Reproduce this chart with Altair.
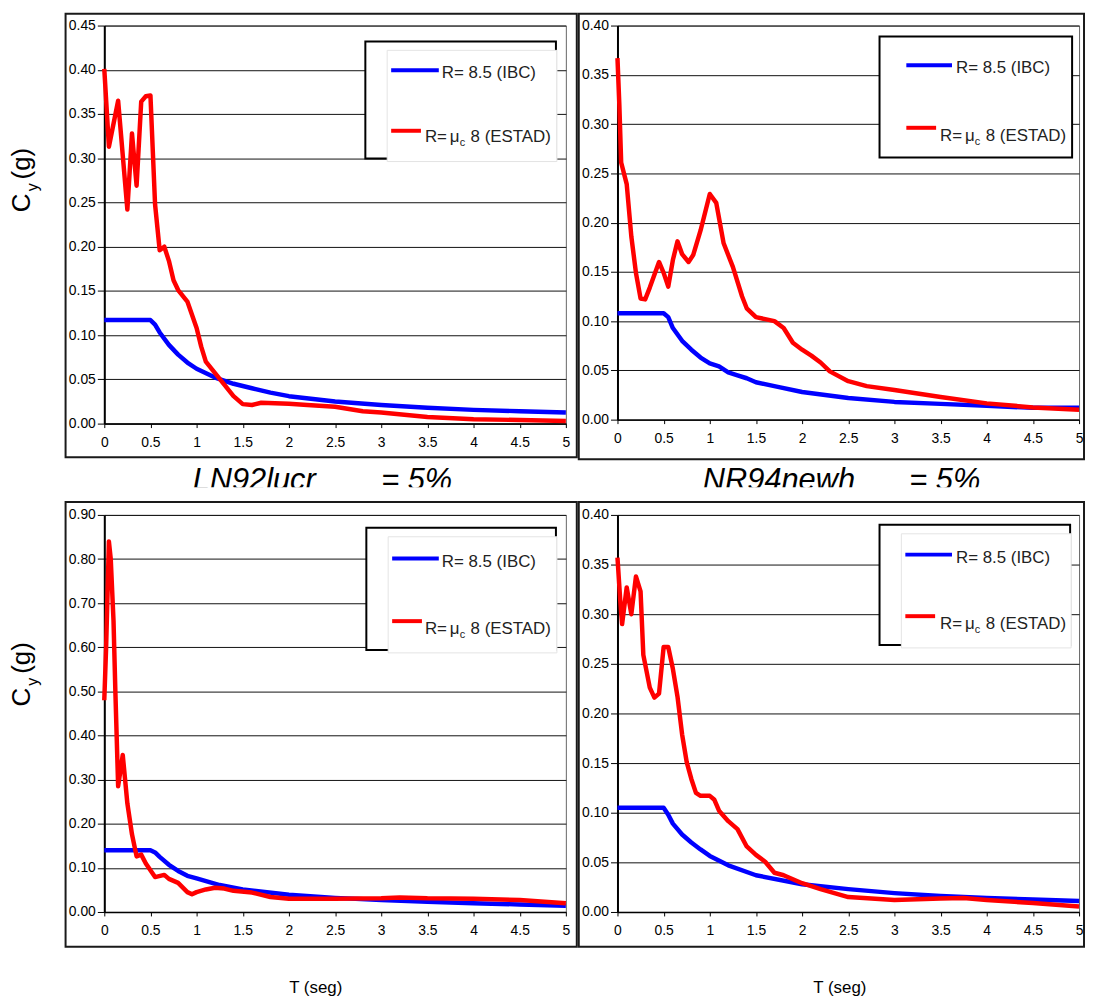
import altair as alt
import pandas as pd

FONT = "Liberation Sans"
BLUE = "#0000ff"
RED = "#ff0000"

# ---------------- data ----------------
T_TICKS = [0, 0.5, 1, 1.5, 2, 2.5, 3, 3.5, 4, 4.5, 5]

# top-left panel
tl_ibc_T = [0, 0.5, 0.55, 0.6, 0.7, 0.8, 0.9, 1.0, 1.2, 1.4, 1.6, 1.8, 2.0, 2.5, 3.0, 3.5, 4.0, 4.5, 5.0]
tl_ibc_C = [0.117, 0.117, 0.112, 0.103, 0.089, 0.078, 0.069, 0.062, 0.052, 0.045, 0.040, 0.035, 0.031,
            0.025, 0.021, 0.018, 0.0155, 0.014, 0.0125]
tl_est_T = [0, 0.05, 0.15, 0.25, 0.3, 0.35, 0.4, 0.45, 0.5, 0.55, 0.6, 0.65, 0.7, 0.75, 0.8, 0.9,
            1.0, 1.05, 1.1, 1.2, 1.3, 1.4, 1.5, 1.6, 1.7, 2.0, 2.2, 2.5, 2.8, 3.0, 3.5, 4.0, 4.5, 5.0]
tl_est_C = [0.401, 0.313, 0.365, 0.242, 0.328, 0.269, 0.364, 0.370, 0.371, 0.248, 0.196, 0.200, 0.184,
            0.162, 0.151, 0.138, 0.108, 0.087, 0.070, 0.057, 0.044, 0.031, 0.022, 0.021, 0.0236, 0.0224,
            0.021, 0.019, 0.014, 0.0125, 0.0075, 0.005, 0.004, 0.003]

# top-right panel
tr_ibc_T = [0, 0.5, 0.55, 0.6, 0.7, 0.8, 0.9, 1.0, 1.1, 1.2, 1.3, 1.4, 1.5, 1.75, 2.0, 2.5, 3.0, 3.5,
            4.0, 4.5, 5.0]
tr_ibc_C = [0.108, 0.108, 0.104, 0.093, 0.080, 0.071, 0.063, 0.057, 0.054, 0.048, 0.045, 0.042, 0.038,
            0.033, 0.028, 0.022, 0.018, 0.016, 0.014, 0.012, 0.012]
tr_est_T = [0, 0.02, 0.04, 0.1, 0.15, 0.2, 0.25, 0.3, 0.35, 0.45, 0.5, 0.55, 0.6, 0.65, 0.7, 0.77, 0.82,
            0.9, 1.0, 1.07, 1.15, 1.25, 1.35, 1.4, 1.5, 1.6, 1.7, 1.8, 1.9, 2.0, 2.1, 2.2, 2.3, 2.5, 2.7,
            3.0, 3.5, 4.0, 4.5, 5.0]
tr_est_C = [0.367, 0.32, 0.261, 0.239, 0.186, 0.149, 0.123, 0.122, 0.134, 0.160, 0.149, 0.135, 0.162,
            0.181, 0.168, 0.160, 0.167, 0.192, 0.229, 0.220, 0.179, 0.155, 0.125, 0.113, 0.104, 0.102,
            0.100, 0.093, 0.078, 0.071, 0.065, 0.058, 0.049, 0.039, 0.034, 0.030, 0.023, 0.0165, 0.0124,
            0.010]

# bottom-left panel
bl_ibc_T = [0, 0.5, 0.55, 0.6, 0.7, 0.8, 0.9, 1.0, 1.25, 1.5, 2.0, 2.5, 3.0, 3.5, 4.0, 4.5, 5.0]
bl_ibc_C = [0.14, 0.14, 0.135, 0.125, 0.107, 0.093, 0.082, 0.076, 0.061, 0.051, 0.039, 0.032, 0.027,
            0.023, 0.020, 0.017, 0.014]
bl_est_T = [0, 0.02, 0.05, 0.07, 0.1, 0.12, 0.15, 0.2, 0.25, 0.3, 0.35, 0.4, 0.45, 0.55, 0.65, 0.7, 0.8,
            0.9, 0.95, 1.0, 1.1, 1.2, 1.3, 1.4, 1.6, 1.8, 2.0, 2.5, 3.0, 3.2, 3.5, 4.0, 4.5, 5.0]
bl_est_C = [0.48, 0.60, 0.84, 0.80, 0.66, 0.50, 0.285, 0.356, 0.246, 0.176, 0.126, 0.13, 0.11, 0.079,
            0.084, 0.075, 0.066, 0.045, 0.040, 0.045, 0.051, 0.055, 0.053, 0.048, 0.044, 0.034, 0.030,
            0.030, 0.031, 0.033, 0.031, 0.030, 0.027, 0.020]

# bottom-right panel
br_ibc_T = [0, 0.5, 0.55, 0.6, 0.7, 0.8, 0.9, 1.0, 1.2, 1.5, 2.0, 2.5, 3.0, 3.5, 4.0, 4.5, 5.0]
br_ibc_C = [0.105, 0.105, 0.098, 0.089, 0.078, 0.070, 0.063, 0.0565, 0.047, 0.037, 0.028, 0.023, 0.019,
            0.016, 0.014, 0.0125, 0.011]
br_est_T = [0, 0.03, 0.05, 0.1, 0.15, 0.2, 0.25, 0.28, 0.35, 0.4, 0.45, 0.5, 0.55, 0.6, 0.65, 0.7, 0.75,
            0.8, 0.85, 0.9, 1.0, 1.05, 1.1, 1.2, 1.3, 1.4, 1.5, 1.6, 1.7, 1.8, 2.0, 2.2, 2.5, 3.0, 3.5,
            3.75, 4.0, 4.5, 5.0]
br_est_C = [0.357, 0.314, 0.290, 0.327, 0.300, 0.338, 0.323, 0.259, 0.226, 0.216, 0.220, 0.267, 0.267,
            0.245, 0.217, 0.179, 0.151, 0.134, 0.120, 0.117, 0.117, 0.113, 0.102, 0.0915, 0.0835, 0.066,
            0.0575, 0.0506, 0.0395, 0.037, 0.029, 0.023, 0.015, 0.012, 0.0135, 0.014, 0.012, 0.009, 0.0055]

LEG_IBC = "R= 8.5 (IBC)"
LEG_EST = ["R=", "\u03bc", "c", "8 (ESTAD)"]
Y_LABEL = ["C", "y", "(g)"]
X_LABEL = "T (seg)"
TITLES = [("LN92lucr", "= 5%"), ("NR94newh", "= 5%")]

ONE = pd.DataFrame({"k": [0]})


def dtext(text, x, y, size, align="left", baseline="alphabetic", angle=None, italic=False, color="black"):
    kw = dict(text=text, font=FONT, fontSize=size, align=align, baseline=baseline, color=color)
    if angle is not None:
        kw["angle"] = angle
    if italic:
        kw["fontStyle"] = "italic"
    return alt.Chart(ONE).mark_text(**kw).encode(x=alt.value(x), y=alt.value(y))


def drect(x, y, x2, y2, **kw):
    return alt.Chart(ONE).mark_rect(**kw).encode(
        x=alt.value(x), x2=alt.value(x2), y=alt.value(y), y2=alt.value(y2))


def drule(x, x2, y, color, width):
    return alt.Chart(ONE).mark_rule(color=color, strokeWidth=width).encode(
        x=alt.value(x), x2=alt.value(x2), y=alt.value(y), y2=alt.value(y))


def panel(ibcT, ibcC, estT, estC, ymax, ystep, w, h, leg, frame, extras):
    n = int(round(ymax / ystep))
    yvals = [round(i * ystep, 2) for i in range(n + 1)]
    xs = alt.Scale(domain=[0, 5], nice=False, zero=False)
    ys = alt.Scale(domain=[0, ymax], nice=False)
    xa = alt.Axis(values=T_TICKS, format="~g", grid=False, title=None, labelFlush=False,
                  labelFont=FONT, labelFontSize=14, labelColor="black", labelPadding=8,
                  tickSize=4, tickColor="black", domainColor="black", domainWidth=1.5)
    ya = alt.Axis(values=yvals, format=".2f", grid=True, gridColor="#111", gridWidth=1, title=None,
                  labelFlush=False, labelFont=FONT, labelFontSize=14, labelColor="black",
                  labelPadding=2, tickSize=7, tickColor="black", domainColor="black", domainWidth=2)
    enc = dict(x=alt.X("T:Q", scale=xs, axis=xa), y=alt.Y("C:Q", scale=ys, axis=ya))
    blue = alt.Chart(pd.DataFrame({"T": ibcT, "C": ibcC})).mark_line(
        color=BLUE, strokeWidth=4.5, strokeJoin="round").encode(**enc)
    red = alt.Chart(pd.DataFrame({"T": estT, "C": estC})).mark_line(
        color=RED, strokeWidth=4.5, strokeJoin="round").encode(**enc)
    layers = [blue, red]

    bx, by, bx2, by2 = leg["box"]
    layers.append(drect(bx, by, bx2, by2, fill="white", stroke="black", strokeWidth=2))
    if not leg["full"]:
        layers.append(drect(bx + 22, by + 9, bx2 + 1, by2 + 3, fill="white", stroke="#e4e4e4",
                            strokeWidth=1))
    s1 = leg["s1"]
    layers.append(drule(s1[0], s1[1], s1[2], BLUE, 4))
    layers.append(dtext(LEG_IBC, leg["t1"][0], leg["t1"][1], 17, color="#222"))
    s2 = leg["s2"]
    layers.append(drule(s2[0], s2[1], s2[2], RED, 4))
    tx, ty = leg["t2"]
    layers.append(dtext(LEG_EST[0], tx, ty, 17, color="#222"))
    layers.append(dtext(LEG_EST[1], tx + 25, ty, 17, color="#222"))
    layers.append(dtext(LEG_EST[2], tx + 35, ty + 4, 11, color="#222"))
    layers.append(dtext(LEG_EST[3], tx + 46, ty, 17, color="#222"))

    fx, fy, fx2, fy2 = frame
    layers.append(drect(fx, fy, fx2, fy2, fillOpacity=0, stroke="#1a1a1a", strokeWidth=2))
    layers.extend(extras)
    return alt.layer(*layers).properties(width=w, height=h)


def ylabel(cy):
    return [dtext(Y_LABEL[0], -75, cy, 26, angle=270),
            dtext(Y_LABEL[1], -67, cy - 21, 16, angle=270),
            dtext(Y_LABEL[2], -75, cy - 33, 26, angle=270)]


def title(t, x1, x2, y):
    return [dtext(t[0], x1, y, 31, italic=True),
            dtext(t[1], x2, y, 31, italic=True),
            drect(x1 - 10, y - 3, x2 + 80, -15, fill="white")]


tl = panel(tl_ibc_T, tl_ibc_C, tl_est_T, tl_est_C, 0.45, 0.05, 465, 401,
           dict(box=(263, 16, 455, 134), full=False, s1=(289, 337, 45), t1=(340, 53),
                s2=(289, 319, 106), t2=(323, 117)),
           (-39, -12, 476, 435),
           ylabel(188) + [drect(-95, -13, -95, -13, opacity=0)])

tr = panel(tr_ibc_T, tr_ibc_C, tr_est_T, tr_est_C, 0.40, 0.05, 465, 397,
           dict(box=(264, 11, 458, 133), full=True, s1=(291, 337, 40), t1=(341, 48),
                s2=(291, 321, 103), t2=(325, 116)),
           (-39, -12, 470, 437), [])

bl = panel(bl_ibc_T, bl_ibc_C, bl_est_T, bl_est_C, 0.90, 0.10, 465, 400,
           dict(box=(264, 13, 455, 136), full=False, s1=(290, 337, 44), t1=(340, 52),
                s2=(290, 320, 107), t2=(323, 120)),
           (-39, -13, 476, 435),
           ylabel(193) + title(TITLES[0], 89, 279, -25)
           + [dtext(X_LABEL, 213, 477, 17, align="center", baseline="middle")])

br = panel(br_ibc_T, br_ibc_C, br_est_T, br_est_C, 0.40, 0.05, 465, 400,
           dict(box=(264, 10, 456, 131), full=False, s1=(290, 337, 40), t1=(341, 48),
                s2=(290, 320, 102), t2=(325, 115)),
           (-39, -13, 470, 435),
           title(TITLES[1], 86, 294, -25)
           + [dtext(X_LABEL, 224, 477, 17, align="center", baseline="middle")])

chart = (
    alt.concat(tl, tr, bl, br, columns=2)
    .properties(spacing={"row": 92, "column": 52}, bounds="flush", padding=0)
    .resolve_scale(x="independent", y="independent")
    .configure_view(stroke="#666", strokeWidth=1)
)

chart.save("out.html", embed_options={"renderer": "svg", "actions": False})
